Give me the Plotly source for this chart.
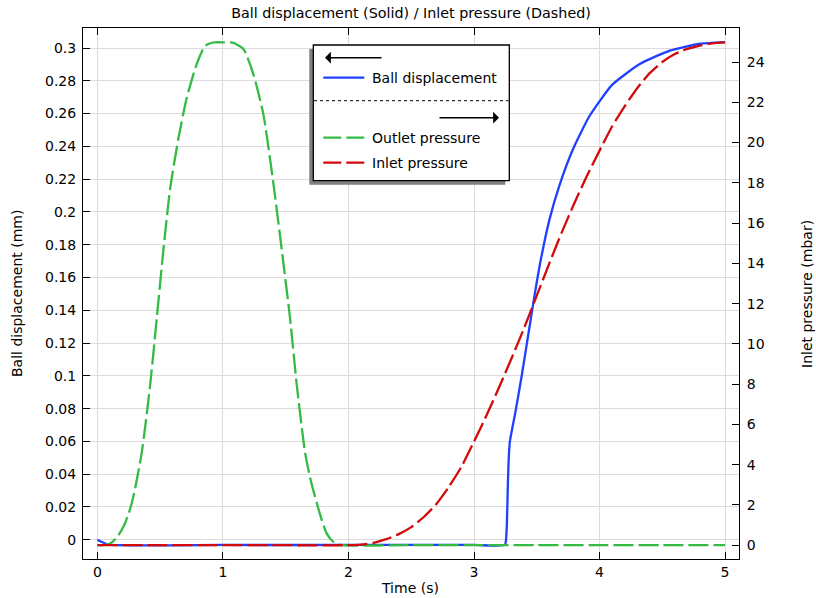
import plotly.graph_objects as go

# ---------------- data ----------------
t_ball = [0.0, 0.04, 0.09, 1.0, 2.0, 3.0, 3.246, 3.255, 3.262, 3.27, 3.278, 3.286,
          3.33, 3.38, 3.43, 3.48, 3.53, 3.60, 3.68, 3.79, 3.92, 4.10, 4.32, 4.56,
          4.80, 5.0]
ball_mm = [0.0, -0.0015, -0.003, -0.0032, -0.0032, -0.0032, -0.0032, 0.0, 0.01, 0.035,
           0.052, 0.06, 0.078, 0.100, 0.124, 0.148, 0.170, 0.195, 0.216, 0.2385,
           0.2585, 0.2775, 0.2902, 0.2984, 0.3026, 0.3036]

t_outlet = [0.0, 0.05, 0.101, 0.15, 0.207, 0.25, 0.287, 0.353, 0.42, 0.473, 0.526,
            0.579, 0.645, 0.711, 0.791, 0.857, 0.92, 1.003, 1.083, 1.163, 1.242,
            1.322, 1.401, 1.468, 1.534, 1.588, 1.654, 1.70, 1.747, 1.79, 1.826,
            1.87, 1.906, 1.95, 2.5, 3.0, 3.5, 4.0, 4.5, 5.0]
outlet_mbar = [0.0, 0.0, 0.08, 0.35, 0.92, 1.6, 2.43, 4.6, 7.96, 11.3, 14.7,
               17.7, 20.2, 22.2, 23.9, 24.8, 24.97, 24.98, 24.95, 24.65, 23.4,
               21.4, 18.0, 14.7, 11.3, 7.96, 4.6, 3.2, 2.1, 1.2, 0.59,
               0.22, 0.08, 0.0, 0.0, 0.0, 0.0, 0.0, 0.0, 0.0]

t_inlet = [0.0, 0.5, 1.0, 1.5, 2.0, 2.1, 2.2, 2.3, 2.4, 2.5, 2.6, 2.7, 2.8, 2.9,
           3.0, 3.1, 3.2, 3.3, 3.4, 3.5, 3.6, 3.7, 3.8, 3.9, 4.0, 4.1, 4.2, 4.3,
           4.4, 4.5, 4.6, 4.7, 4.8, 4.9, 5.0]
inlet_mbar = [0.0, 0.0, 0.0, 0.0, 0.0, 0.03, 0.12, 0.3, 0.55, 0.9, 1.4, 2.05, 2.9,
              3.9, 5.15, 6.45, 7.85, 9.3, 10.8, 12.4, 14.0, 15.55, 17.0, 18.35,
              19.6, 20.8, 21.8, 22.7, 23.45, 24.0, 24.4, 24.65, 24.82, 24.93, 24.98]

left_ticks = [0, 0.02, 0.04, 0.06, 0.08, 0.1, 0.12, 0.14, 0.16, 0.18, 0.2,
              0.22, 0.24, 0.26, 0.28, 0.3]
left_tick_text = ["0", "0.02", "0.04", "0.06", "0.08", "0.1", "0.12", "0.14",
                  "0.16", "0.18", "0.2", "0.22", "0.24", "0.26", "0.28", "0.3"]
right_ticks = [0, 2, 4, 6, 8, 10, 12, 14, 16, 18, 20, 22, 24]
x_ticks = [0, 1, 2, 3, 4, 5]

# ---------------- styling / layout ----------------
W, H = 816, 598
L, R, T, B = 83, 739, 28, 559
FONT = "DejaVu Sans"
FS = 14
BLUE = "#1f40ff"
GREEN = "#33bb44"
RED = "#d20a0a"
LW = 2.3
DASH = "20px,5px"


def px(x):
    return (x - L) / (R - L)


def py(y):
    return (B - y) / (B - T)


fig = go.Figure()
fig.add_trace(go.Scatter(x=t_ball, y=ball_mm, mode="lines", name="Ball displacement",
                         line=dict(color=BLUE, width=LW, shape="spline", smoothing=0.5),
                         yaxis="y", showlegend=False))
fig.add_trace(go.Scatter(x=t_outlet, y=outlet_mbar, mode="lines", name="Outlet pressure",
                         line=dict(color=GREEN, width=LW, dash=DASH, shape="spline",
                                   smoothing=0.6),
                         yaxis="y2", showlegend=False))
fig.add_trace(go.Scatter(x=t_inlet, y=inlet_mbar, mode="lines", name="Inlet pressure",
                         line=dict(color=RED, width=LW, dash=DASH, shape="spline",
                                   smoothing=0.6),
                         yaxis="y2", showlegend=False))

axis_common = dict(showline=True, linecolor="black", linewidth=1, ticks="inside",
                   ticklen=7, tickcolor="black", tickwidth=1, zeroline=False,
                   automargin=False,
                   tickfont=dict(family=FONT, size=FS, color="black"))

fig.update_layout(
    width=W, height=H,
    margin=dict(l=L, r=W - R, t=T, b=H - B, pad=0, autoexpand=False),
    paper_bgcolor="white", plot_bgcolor="white",
    font=dict(family=FONT, size=FS, color="black"),
    title=dict(text="Ball displacement (Solid) / Inlet pressure (Dashed)",
               x=0.5, xref="paper", xanchor="center",
               y=1 - 13 / H, yref="container", yanchor="middle",
               font=dict(family=FONT, size=14.3, color="black")),
    xaxis=dict(range=[-0.115, 5.111], tickvals=x_ticks, mirror="ticks",
               showgrid=True, gridcolor="#dcdcdc", gridwidth=1, **axis_common),
    yaxis=dict(range=[-0.01176, 0.3122], tickvals=left_ticks, ticktext=left_tick_text,
               mirror=False, showgrid=True, gridcolor="#dcdcdc", gridwidth=1,
               ticklabelstandoff=3, **axis_common),
    yaxis2=dict(range=[-0.685, 25.69], tickvals=right_ticks, overlaying="y",
                side="right", showgrid=False, ticklabelstandoff=4, **axis_common),
    showlegend=False,
)

shapes = []
annotations = []

# legend shadow + box
shapes.append(dict(type="rect", xref="paper", yref="paper",
                   x0=px(309.3), x1=px(505.3), y0=py(184.7), y1=py(49),
                   fillcolor="#808080", line=dict(width=0)))
shapes.append(dict(type="rect", xref="paper", yref="paper",
                   x0=px(313.3), x1=px(509.3), y0=py(180.7), y1=py(45),
                   fillcolor="white", line=dict(color="black", width=1.3)))
# dotted separator
shapes.append(dict(type="line", xref="paper", yref="paper",
                   x0=px(314), x1=px(508.5), y0=py(100.7), y1=py(100.7),
                   line=dict(color="black", width=1, dash="dot")))
# legend line samples
for yy, col, dsh in [(77.7, BLUE, "solid"), (137.7, GREEN, "18px,5px"),
                     (162.7, RED, "18px,5px")]:
    shapes.append(dict(type="line", xref="paper", yref="paper",
                       x0=px(323.3), x1=px(364.3), y0=py(yy), y1=py(yy),
                       line=dict(color=col, width=LW, dash=dsh)))

for yy, txt in [(77.7, "Ball displacement"), (137.7, "Outlet pressure"),
                (162.7, "Inlet pressure")]:
    annotations.append(dict(xref="paper", yref="paper", x=px(370.3), y=py(yy),
                            text=txt, showarrow=False, xanchor="left",
                            yanchor="middle",
                            font=dict(family=FONT, size=FS, color="black")))

# arrows
annotations.append(dict(xref="paper", yref="paper", x=px(325), y=py(57.7),
                        ax=58, ay=0, text="", showarrow=True, arrowhead=1,
                        arrowsize=1.3, arrowwidth=1.5, arrowcolor="black",
                        standoff=0, startstandoff=0))
annotations.append(dict(xref="paper", yref="paper", x=px(499), y=py(117.7),
                        ax=-61, ay=0, text="", showarrow=True, arrowhead=1,
                        arrowsize=1.3, arrowwidth=1.5, arrowcolor="black",
                        standoff=0, startstandoff=0))

# axis titles
annotations.append(dict(xref="paper", yref="paper", x=px(410), y=py(588),
                        text="Time (s)", showarrow=False, xanchor="center",
                        yanchor="middle", font=dict(family=FONT, size=FS, color="black")))
annotations.append(dict(xref="paper", yref="paper", x=px(17), y=py(294),
                        text="Ball displacement (mm)", showarrow=False, textangle=-90,
                        xanchor="center", yanchor="middle",
                        font=dict(family=FONT, size=FS, color="black")))
annotations.append(dict(xref="paper", yref="paper", x=px(807), y=py(294),
                        text="Inlet pressure (mbar)", showarrow=False, textangle=-90,
                        xanchor="center", yanchor="middle",
                        font=dict(family=FONT, size=FS, color="black")))

fig.update_layout(shapes=shapes, annotations=annotations)

# remove the browser's default 8px page margin so the figure sits at the top-left
fig.write_html("out.html",
               config={"displayModeBar": False},
               post_script="document.body.style.margin='0';"
                           "document.body.style.overflow='hidden';")
